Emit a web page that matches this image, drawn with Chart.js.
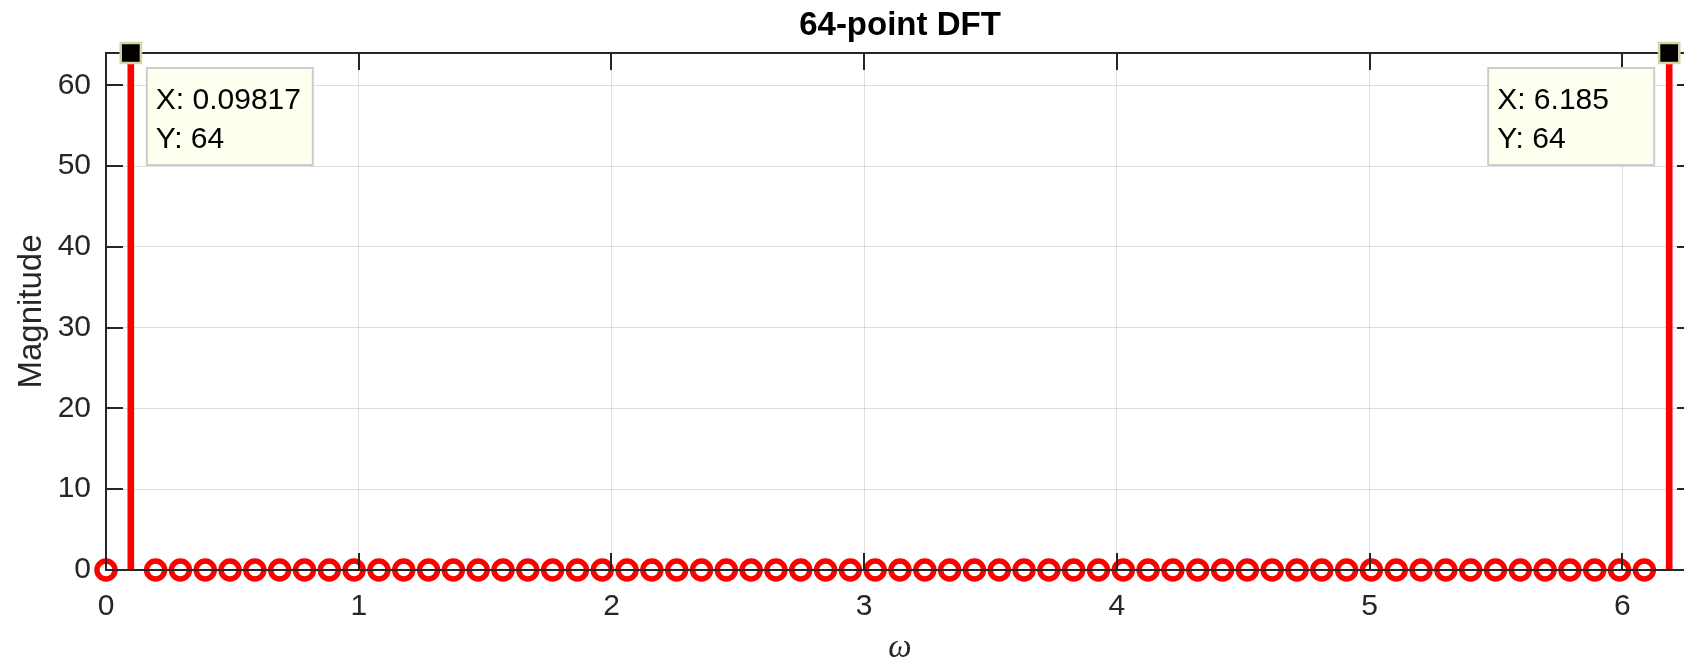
<!DOCTYPE html>
<html>
<head>
<meta charset="utf-8">
<title>64-point DFT</title>
<script src="https://cdn.jsdelivr.net/npm/chart.js@4/dist/chart.umd.min.js"></script>
<style>
    html, body { margin: 0; padding: 0; background: #fff; overflow: hidden; }
    #wrap { width: 1684px; height: 660px; overflow: hidden; }
</style>
</head>
<body>
<div id="wrap"><canvas id="dftChart" width="1800" height="700"></canvas></div>
<script>
// omega = 2*pi*k/64, k = 0..63
const omega = [
    0.0000, 0.0982, 0.1963, 0.2945, 0.3927, 0.4909, 0.5890, 0.6872,
    0.7854, 0.8836, 0.9817, 1.0799, 1.1781, 1.2763, 1.3744, 1.4726,
    1.5708, 1.6690, 1.7671, 1.8653, 1.9635, 2.0617, 2.1598, 2.2580,
    2.3562, 2.4544, 2.5525, 2.6507, 2.7489, 2.8471, 2.9452, 3.0434,
    3.1416, 3.2398, 3.3379, 3.4361, 3.5343, 3.6325, 3.7306, 3.8288,
    3.9270, 4.0252, 4.1233, 4.2215, 4.3197, 4.4179, 4.5160, 4.6142,
    4.7124, 4.8106, 4.9087, 5.0069, 5.1051, 5.2033, 5.3014, 5.3996,
    5.4978, 5.5960, 5.6941, 5.7923, 5.8905, 5.9887, 6.0868, 6.1850
];
const magnitude = [
    0, 64, 0, 0, 0, 0, 0, 0,
    0, 0, 0, 0, 0, 0, 0, 0,
    0, 0, 0, 0, 0, 0, 0, 0,
    0, 0, 0, 0, 0, 0, 0, 0,
    0, 0, 0, 0, 0, 0, 0, 0,
    0, 0, 0, 0, 0, 0, 0, 0,
    0, 0, 0, 0, 0, 0, 0, 0,
    0, 0, 0, 0, 0, 0, 0, 64
];
const xTicks = [0, 1, 2, 3, 4, 5, 6];
const yTicks = [0, 10, 20, 30, 40, 50, 60];
const xMax = 6.2832;
const yMax = 64;

// data tips shown in the figure
const tipIndex = [1, 63];
const tipXText = ['0.09817', '6.185'];
const tipYText = ['64', '64'];

const AXIS_COLOR = '#262626';
const points = omega.map((w, i) => ({ x: w, y: magnitude[i] }));

// box around the axes with inward ticks on all four sides (MATLAB style)
const axesBox = {
    id: 'axesBox',
    beforeDatasetDraw(chart, args) {
        if (chart.data.datasets[args.index].label !== 'datatip') return;
        const { ctx, chartArea: a, scales: { x, y } } = chart;
        const len = 17;
        ctx.save();
        ctx.strokeStyle = AXIS_COLOR;
        ctx.lineWidth = 2;
        ctx.strokeRect(a.left, a.top, a.right - a.left, a.bottom - a.top);
        ctx.beginPath();
        xTicks.forEach(v => {
            const px = Math.round(x.getPixelForValue(v));
            ctx.moveTo(px, a.bottom); ctx.lineTo(px, a.bottom - len);
            ctx.moveTo(px, a.top); ctx.lineTo(px, a.top + len);
        });
        yTicks.forEach(v => {
            const py = Math.round(y.getPixelForValue(v));
            ctx.moveTo(a.left, py); ctx.lineTo(a.left + len, py);
            ctx.moveTo(a.right, py); ctx.lineTo(a.right - len, py);
        });
        ctx.stroke();
        ctx.restore();
    },
    afterDraw(chart) {
        const { ctx, chartArea: a, scales: { x, y } } = chart;
        ctx.save();
        ctx.font = '30px "Liberation Sans", Arial, sans-serif';
        ctx.textBaseline = 'alphabetic';
        tipIndex.forEach((idx, n) => {
            const px = x.getPixelForValue(omega[idx]);
            const py = y.getPixelForValue(magnitude[idx]);
            const w = 166, h = 97;
            // put the box on whichever side has room
            const left = px > (a.left + a.right) / 2 ? px - 15 - w : px + 16;
            const top = py + 15;
            ctx.fillStyle = '#fffff0';
            ctx.fillRect(left, top, w, h);
            ctx.strokeStyle = '#cdcdcd';
            ctx.lineWidth = 2;
            ctx.strokeRect(left, top, w, h);
            ctx.fillStyle = '#000';
            ctx.fillText('X: ' + tipXText[n], left + 9, top + 41);
            ctx.fillText('Y: ' + tipYText[n], left + 9, top + 80);
        });
        ctx.restore();
    }
};

const tickFont = { family: '"Liberation Sans", Arial, sans-serif', size: 30 };

new Chart(document.getElementById('dftChart'), {
    type: 'scatter',
    data: {
        datasets: [
            {
                label: 'datatip',
                type: 'scatter',
                data: tipIndex.map(i => points[i]),
                pointStyle: 'rect',
                pointRadius: 14.3,
                pointBorderWidth: 2.5,
                pointBackgroundColor: '#000',
                pointBorderColor: '#d6d3a4',
                clip: false,
                order: 0
            },
            {
                label: 'markers',
                type: 'line',
                data: points,
                showLine: false,
                pointStyle: 'circle',
                // the data tip marker sits on top of these two
                pointRadius: c => tipIndex.includes(c.dataIndex) ? 0 : 9,
                pointBorderWidth: 5.5,
                pointBackgroundColor: 'rgba(0,0,0,0)',
                pointBorderColor: '#ff0000',
                clip: false,
                order: 1
            },
            {
                label: 'stems',
                type: 'bar',
                data: points,
                barThickness: 6,
                backgroundColor: '#ff0000',
                borderWidth: 0,
                order: 2
            }
        ]
    },
    options: {
        responsive: false,
        devicePixelRatio: 1,
        animation: false,
        layout: { padding: 0 },
        plugins: {
            legend: { display: false },
            tooltip: { enabled: false },
            title: {
                display: true,
                text: '64-point DFT',
                color: '#000',
                font: { family: '"Liberation Sans", Arial, sans-serif', size: 33, weight: 'bold', lineHeight: 1.2 },
                padding: { top: 6, bottom: 7.4 }
            }
        },
        scales: {
            x: {
                type: 'linear',
                min: 0,
                max: xMax,
                offset: false,
                afterBuildTicks: scale => { scale.ticks = xTicks.map(v => ({ value: v })); },
                afterFit: scale => { scale.height = 130; },
                ticks: { color: AXIS_COLOR, font: tickFont, padding: 19, maxRotation: 0 },
                grid: { color: 'rgba(38,38,38,0.15)', lineWidth: 1, drawTicks: false, offset: false },
                border: { display: false },
                title: {
                    display: true,
                    text: 'ω',
                    color: AXIS_COLOR,
                    font: { family: '"Liberation Serif", serif', size: 33, style: 'italic', lineHeight: 1.2 },
                    padding: { top: 0, bottom: 32 }
                }
            },
            y: {
                min: 0,
                max: yMax,
                afterBuildTicks: scale => { scale.ticks = yTicks.map(v => ({ value: v })); },
                afterFit: scale => { scale.width = 106; },
                ticks: { color: AXIS_COLOR, font: tickFont, padding: 15 },
                grid: { color: 'rgba(38,38,38,0.15)', lineWidth: 1, drawTicks: false },
                border: { display: false },
                title: {
                    display: true,
                    text: 'Magnitude',
                    color: AXIS_COLOR,
                    font: { family: '"Liberation Sans", Arial, sans-serif', size: 33, lineHeight: 1.2 },
                    padding: { top: 12, bottom: 0 }
                }
            },
            // empty right-hand axis: reserves the space that mirrors the left one,
            // so the axes box runs past the figure edge and the title stays centred
            yRight: {
                position: 'right',
                min: 0,
                max: yMax,
                afterFit: scale => { scale.width = 106; },
                ticks: { display: false },
                grid: { display: false, drawTicks: false },
                border: { display: false }
            }
        }
    },
    plugins: [axesBox]
});
</script>
</body>
</html>
